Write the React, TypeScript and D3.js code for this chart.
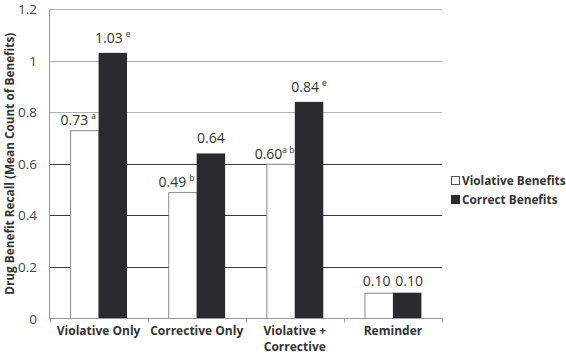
import { useEffect, useRef } from "react"
import * as d3 from "d3"

const categories = ["Violative Only", "Corrective Only", "Violative +|Corrective", "Reminder"]
const violative = [0.73, 0.49, 0.6, 0.1]
const correct = [1.03, 0.64, 0.84, 0.1]
const violativeSup = ["a", "b", "a b", ""]
const correctSup = ["e", "", "e", ""]
const seriesNames = ["Violative Benefits", "Correct Benefits"]
const yTicks = [0, 0.2, 0.4, 0.6, 0.8, 1, 1.2]

const App = () => {
  const svgRef = useRef<SVGSVGElement | null>(null)

  useEffect(() => {
    const width = 566
    const height = 354
    const left = 49.5
    const right = 442
    const top = 9
    const bottom = 318.5
    const font = "Open Sans, Liberation Sans, sans-serif"

    const svg = d3.select(svgRef.current)
      .attr("width", width)
      .attr("height", height)
    svg.selectAll("*").remove()

    const x = d3.scaleBand<string>().domain(categories).range([left, right])
    const y = d3.scaleLinear().domain([0, 1.2]).range([bottom, top])
    const barW = x.bandwidth() * 0.29

    // gridlines
    svg.append("g")
      .selectAll("line")
      .data(yTicks.filter(d => d > 0))
      .enter()
      .append("line")
      .attr("x1", left)
      .attr("x2", right)
      .attr("y1", d => Math.round(y(d)) + 0.5)
      .attr("y2", d => Math.round(y(d)) + 0.5)
      .attr("stroke", d => (d <= 0.6 ? "#3a3a3a" : "#b4b4b4"))
      .attr("stroke-width", 1)

    // y tick labels
    svg.append("g")
      .selectAll("text")
      .data(yTicks)
      .enter()
      .append("text")
      .attr("x", 37)
      .attr("y", d => y(d) + 5)
      .attr("text-anchor", "end")
      .attr("font-family", font)
      .attr("font-size", 13.5)
      .attr("fill", "#444")
      .text(d => String(d))

    // bars
    const groups = svg.append("g")
      .selectAll("g")
      .data(categories)
      .enter()
      .append("g")

    groups.append("rect")
      .attr("x", d => x(d)! + x.bandwidth() / 2 - barW + 0.5)
      .attr("y", (_, i) => y(violative[i]) + 0.5)
      .attr("width", barW)
      .attr("height", (_, i) => bottom - y(violative[i]) - 0.5)
      .attr("fill", "#fff")
      .attr("stroke", "#8a8a8a")
      .attr("stroke-width", 1)

    groups.append("rect")
      .attr("x", d => x(d)! + x.bandwidth() / 2)
      .attr("y", (_, i) => y(correct[i]))
      .attr("width", barW)
      .attr("height", (_, i) => bottom - y(correct[i]))
      .attr("fill", "#2b2b2f")

    // axes lines
    svg.append("line")
      .attr("x1", left).attr("x2", left)
      .attr("y1", top).attr("y2", bottom)
      .attr("stroke", "#999")
    svg.append("line")
      .attr("x1", left).attr("x2", right)
      .attr("y1", bottom).attr("y2", bottom)
      .attr("stroke", "#999")
    svg.append("g")
      .selectAll("line")
      .data([...categories.map(c => x(c)!), right])
      .enter()
      .append("line")
      .attr("x1", d => Math.round(d) + 0.5)
      .attr("x2", d => Math.round(d) + 0.5)
      .attr("y1", bottom)
      .attr("y2", bottom + 4)
      .attr("stroke", "#999")

    // value labels
    const addLabel = (cx: number, cy: number, val: number, sup: string) => {
      const t = svg.append("text")
        .attr("x", cx)
        .attr("y", cy)
        .attr("text-anchor", "middle")
        .attr("font-family", font)
        .attr("font-size", 14)
        .attr("fill", "#333")
      t.append("tspan").text(val.toFixed(2))
      if (sup) {
        t.append("tspan")
          .attr("font-size", 8.5)
          .attr("dy", -6)
          .attr("dx", sup === "a b" ? 0 : 3)
          .text(sup)
      }
    }
    categories.forEach((c, i) => {
      const cx0 = x(c)! + x.bandwidth() / 2 - barW / 2
      const cx1 = x(c)! + x.bandwidth() / 2 + barW / 2
      if (i === 3) {
        addLabel(cx0 - 2, y(violative[i]) - 7, violative[i], violativeSup[i])
        addLabel(cx1 + 2, y(correct[i]) - 7, correct[i], correctSup[i])
      } else {
        addLabel(cx0 - 6, y(violative[i]) - 5, violative[i], violativeSup[i])
        addLabel(cx1, y(correct[i]) - 10, correct[i], correctSup[i])
      }
    })

    // x labels, one text per line
    const xLines = categories.flatMap(c =>
      c.split("|").map((l, k) => ({ c, l, k }))
    )
    svg.append("g")
      .selectAll("text")
      .data(xLines)
      .enter()
      .append("text")
      .attr("x", d => x(d.c)! + x.bandwidth() / 2)
      .attr("y", d => 335 + d.k * 16)
      .attr("text-anchor", "middle")
      .attr("font-family", font)
      .attr("font-size", 12)
      .attr("font-weight", "bold")
      .attr("fill", "#333")
      .text(d => d.l)

    // y title
    svg.append("text")
      .attr("transform", `translate(14,${(top + bottom) / 2}) rotate(-90)`)
      .attr("text-anchor", "middle")
      .attr("font-family", font)
      .attr("font-size", 11.8)
      .attr("font-weight", "bold")
      .attr("fill", "#333")
      .text("Drug Benefit Recall (Mean Count of Benefits)")

    // legend
    const legend = svg.append("g")
      .selectAll("g")
      .data(seriesNames)
      .enter()
      .append("g")
      .attr("transform", (_, i) => `translate(451,${176 + i * 19})`)
    legend.append("rect")
      .attr("x", 0.5)
      .attr("y", 0.5)
      .attr("width", 8)
      .attr("height", 8)
      .attr("fill", (_, i) => (i === 0 ? "#fff" : "#2b2b2f"))
      .attr("stroke", (_, i) => (i === 0 ? "#555" : "#2b2b2f"))
    legend.append("text")
      .attr("x", 11)
      .attr("y", 9)
      .attr("font-family", font)
      .attr("font-size", 11.8)
      .attr("font-weight", "bold")
      .attr("fill", "#333")
      .text(d => d)
  }, [])

  return <svg ref={svgRef} style={{ position: "absolute", left: 0, top: 0 }}></svg>
}

export default App
